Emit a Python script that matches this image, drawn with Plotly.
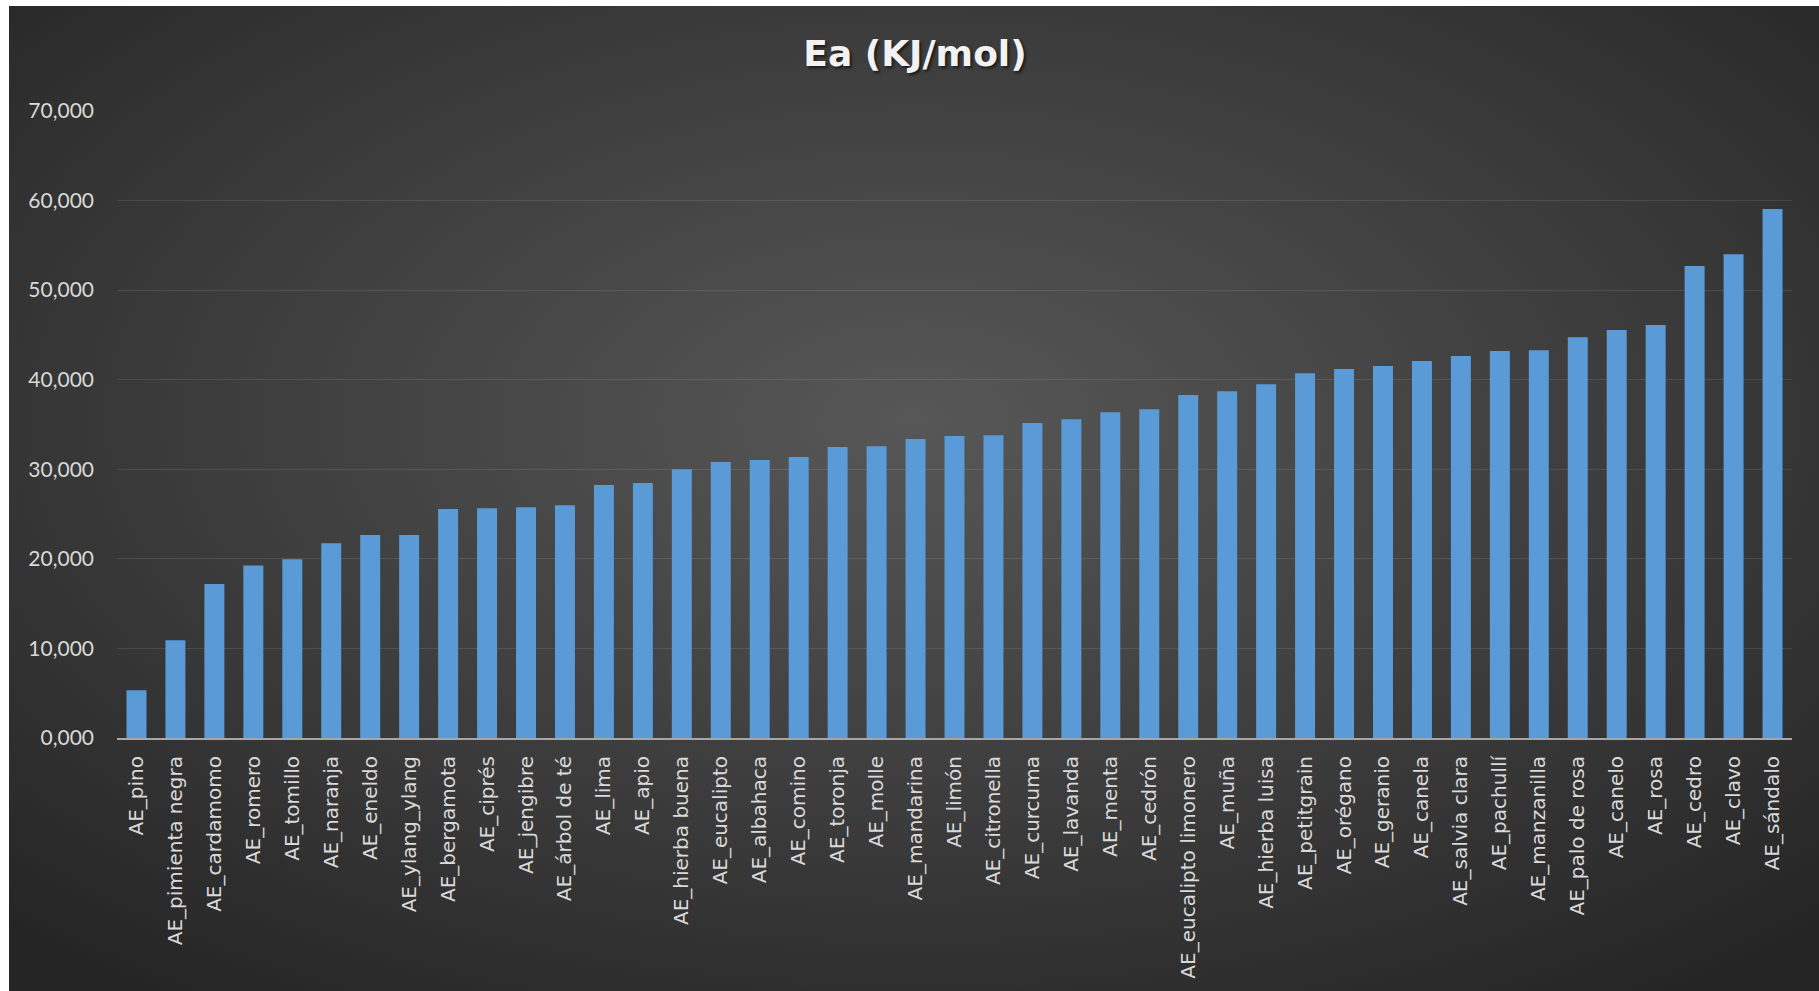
import base64
import plotly.graph_objects as go

categories = [
    "AE_pino", "AE_pimienta negra", "AE_cardamomo", "AE_romero", "AE_tomillo",
    "AE_naranja", "AE_eneldo", "AE_ylang_ylang", "AE_bergamota", "AE_ciprés",
    "AE_jengibre", "AE_árbol de té", "AE_lima", "AE_apio", "AE_hierba buena",
    "AE_eucalipto", "AE_albahaca", "AE_comino", "AE_toronja", "AE_molle",
    "AE_mandarina", "AE_limón", "AE_citronella", "AE_curcuma", "AE_lavanda",
    "AE_menta", "AE_cedrón", "AE_eucalipto limonero", "AE_muña", "AE_hierba luisa",
    "AE_petitgrain", "AE_orégano", "AE_geranio", "AE_canela", "AE_salvia clara",
    "AE_pachullí", "AE_manzanilla", "AE_palo de rosa", "AE_canelo", "AE_rosa",
    "AE_cedro", "AE_clavo", "AE_sándalo",
]
ea_values = [
    5340, 10900, 17180, 19270, 19960,
    21750, 22650, 22650, 25560, 25640,
    25770, 25980, 28250, 28460, 30000,
    30810, 31030, 31370, 32480, 32560,
    33380, 33720, 33800, 35170, 35600,
    36370, 36710, 38290, 38720, 39490,
    40730, 41200, 41540, 42090, 42650,
    43210, 43290, 44740, 45560, 46110,
    52690, 54020, 59060,
]
y_tick_values = [0, 10000, 20000, 30000, 40000, 50000, 60000, 70000]
y_tick_labels = ["0,000", "10,000", "20,000", "30,000", "40,000", "50,000", "60,000", "70,000"]

W, H = 1819, 991
ML, MR, MT, MB = 117, 27, 111, 253
PW, PH = W - ML - MR, H - MT - MB

# dark radial background (styling only)
svg = f'''<svg xmlns="http://www.w3.org/2000/svg" width="{W-9}" height="{H-6}" preserveAspectRatio="none">
<defs><radialGradient id="g" cx="0.5" cy="0.42" r="0.72">
<stop offset="0" stop-color="#575757"/>
<stop offset="0.55" stop-color="#3c3c3c"/>
<stop offset="1" stop-color="#252525"/>
</radialGradient></defs>
<rect width="100%" height="100%" fill="url(#g)"/></svg>'''
bg_uri = "data:image/svg+xml;base64," + base64.b64encode(svg.encode()).decode()

fig = go.Figure(
    go.Bar(
        x=categories,
        y=ea_values,
        marker=dict(color="#5a9ad6", line=dict(width=0)),
    )
)

fig.add_layout_image(
    dict(
        source=bg_uri,
        xref="paper", yref="paper",
        x=(9 - ML) / PW, y=(H - MB - 6) / PH,
        sizex=(W - 9) / PW, sizey=(H - 6) / PH,
        xanchor="left", yanchor="top",
        sizing="stretch", layer="below",
    )
)

fig.update_layout(
    width=W, height=H,
    margin=dict(l=ML, r=MR, t=MT, b=MB, autoexpand=False),
    paper_bgcolor="white",
    plot_bgcolor="rgba(0,0,0,0)",
    bargap=0.487,
    showlegend=False,
    title=dict(
        text="Ea (KJ/mol)",
        x=915 / W, xanchor="center",
        y=1 - 53 / H, yanchor="middle", yref="container",
        font=dict(family="DejaVu Sans", size=36, color="#f2f2f2", weight="bold",
                  shadow="2px 2px 3px rgba(0,0,0,0.6)"),
    ),
    xaxis=dict(
        type="category",
        tickangle=-90,
        tickfont=dict(family="DejaVu Sans", size=20, color="#d9d9d9"),
        showgrid=False,
        showline=True, linecolor="#a6a6a6", linewidth=2,
        ticks="",
        ticklabelstandoff=8,
        zeroline=False,
    ),
    yaxis=dict(
        range=[0, 70000],
        tickmode="array",
        tickvals=y_tick_values,
        ticktext=y_tick_labels,
        tickfont=dict(family="Lato", size=21, color="#d9d9d9"),
        showgrid=True, gridcolor="rgba(255,255,255,0.10)", gridwidth=1.3,
        zeroline=False,
        showline=False,
        ticks="",
        ticklabelstandoff=22,
    ),
)

fig.write_html("out.html")
